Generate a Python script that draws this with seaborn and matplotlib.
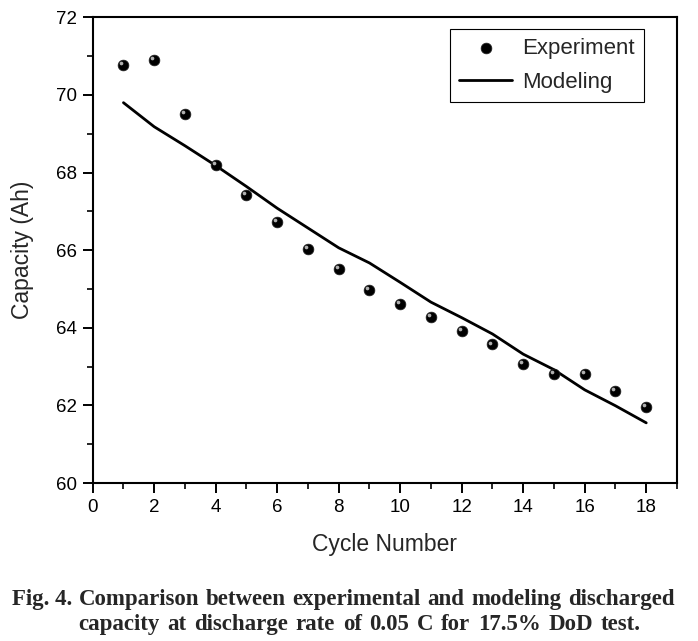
import pandas as pd
import matplotlib.pyplot as plt
import seaborn as sns
from matplotlib.ticker import MultipleLocator

# data
cycle = list(range(1, 19))
exp_cap = [70.77, 70.90, 69.51, 68.19, 67.42, 66.73, 66.03, 65.52, 64.97,
           64.62, 64.27, 63.92, 63.57, 63.07, 62.80, 62.80, 62.38, 61.96]
model_cap = [69.80, 69.18, 68.69, 68.18, 67.64, 67.08, 66.57, 66.06, 65.67,
             65.17, 64.66, 64.26, 63.84, 63.32, 62.92, 62.40, 61.99, 61.55]

caption1 = 'Fig. 4. Comparison between experimental and modeling discharged'
caption2 = 'capacity at discharge rate of 0.05 C for 17.5% DoD test.'

df = pd.DataFrame({'cycle': cycle, 'exp': exp_cap, 'model': model_cap})

sns.set_theme(style='ticks')
plt.rcParams['font.family'] = ['Liberation Sans', 'DejaVu Sans']

W, H = 698, 641
fig = plt.figure(figsize=(W/100, H/100), dpi=100)
ax = fig.add_axes([92.7/W, 1-483/H, 584.3/W, 465.7/H])

sns.lineplot(data=df, x='cycle', y='model', color='black', linewidth=2.0,
             ax=ax, label='Modeling')
sns.scatterplot(data=df, x='cycle', y='exp', color='black', s=60,
                edgecolor='#222222', linewidth=0.5, ax=ax, label='Experiment', zorder=3)
# small highlight on the balls
ax.scatter(df.cycle - 0.07, df.exp + 0.05, s=7, color='#b0b0b0', zorder=4, linewidth=0)

ax.set_xlim(0, 19)
ax.set_ylim(60, 72)
ax.set_xticks(range(0, 19, 2))
ax.xaxis.set_minor_locator(MultipleLocator(1))
ax.yaxis.set_major_locator(MultipleLocator(2))
ax.yaxis.set_minor_locator(MultipleLocator(1))
ax.set_xlim(0, 19)
ax.tick_params(which='major', length=7, width=1.4, direction='out', labelsize=13.5,
               colors='black', pad=4.5)
ax.tick_params(which='minor', length=4.3, width=1.4, direction='out')
for s in ax.spines.values():
    s.set_linewidth(1.5)
    s.set_color('black')

ax.set_xlabel('Cycle Number', fontsize=16.5, labelpad=12)
ax.set_ylabel('Capacity (Ah)', fontsize=16.5, labelpad=16)

h, l = ax.get_legend_handles_labels()
leg = ax.legend(h[::-1], l[::-1], loc='upper right', fontsize=16, frameon=True,
                fancybox=False, edgecolor='black', framealpha=1,
                handlelength=2.4, handletextpad=0.45, borderpad=0.4,
                labelspacing=0.57, borderaxespad=0,
                bbox_to_anchor=(0.9435, 0.974))
leg.get_frame().set_linewidth(0.8)

# caption, both lines spread between measured ends
cap_font = dict(family='Liberation Serif', fontsize=16.5, fontweight='bold', va='baseline')
fig.canvas.draw()
r = fig.canvas.get_renderer()


def spread(line, x0, x1, ybase):
    words = line.split(' ')
    words = ['Fig. 4.'] + words[2:] if line.startswith('Fig.') else words
    txts = [fig.text(0, 1 - ybase/H, w, **cap_font) for w in words]
    widths = [t.get_window_extent(r).width for t in txts]
    gap = (x1 - x0 - sum(widths)) / (len(words) - 1)
    x = x0
    for t, w in zip(txts, widths):
        t.set_x(x/W)
        x += w + gap


spread(caption1, 11.7, 674.7, 605)
spread(caption2, 78, 641, 630)

fig.savefig('out.png', dpi=100)
